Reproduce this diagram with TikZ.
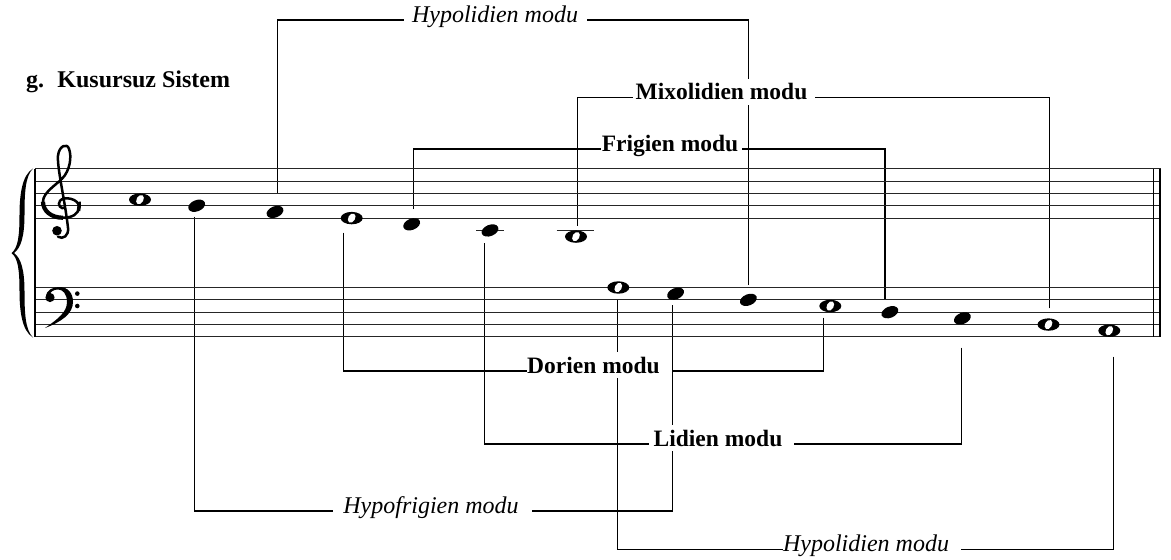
\documentclass[tikz,border=0pt]{standalone}
\usepackage{fontspec}
\setmainfont{Liberation Serif}
\usetikzlibrary{backgrounds}
\begin{document}
\begin{tikzpicture}[x=1pt,y=-1pt,
  staffline/.style={line width=1.1pt, black!85},
  conn/.style={line width=1.1pt, black},
  boldlab/.style={font=\fontsize{23.5}{26}\selectfont\bfseries, inner xsep=0pt, inner ysep=4.5pt, fill=white, anchor=mid},
  itlab/.style={font=\fontsize{24}{27}\selectfont\itshape, inner xsep=0pt, inner ysep=4.5pt, fill=white, anchor=mid},
  wnote/.pic={\fill[black] (0,0) ellipse [x radius=11pt, y radius=6.2pt];
              \fill[white, rotate=-30] (0,0) ellipse [x radius=3.4pt, y radius=5pt];},
  fnote/.pic={\fill[black, rotate=22] (0,0) ellipse [x radius=8.8pt, y radius=5.6pt];}
]
\useasboundingbox (0,0) rectangle (1171,560);

% staves
\foreach \k in {0,...,4}{
  \draw[staffline] (35,{168.7+12.35*\k}) -- (1161,{168.7+12.35*\k});
  \draw[staffline] (35,{287.5+12.35*\k}) -- (1161,{287.5+12.35*\k});
}
\draw[line width=1.3pt] (35,168.7) -- (35,336.9);
\draw[line width=1.3pt] (1153.5,168.7) -- (1153.5,336.9);
\draw[line width=1.8pt] (1160.2,168.7) -- (1160.2,336.9);

% brace
\fill[black] (33,168.5) .. controls (22,175) and (19.5,195) .. (19.5,215)
  .. controls (19.5,236) and (18,248) .. (11.5,253)
  .. controls (18,258) and (19.5,270) .. (19.5,291)
  .. controls (19.5,311) and (22,331) .. (33,337.5)
  .. controls (25,330) and (24.5,311) .. (24.5,291)
  .. controls (24.5,270) and (21,258) .. (14,253)
  .. controls (21,248) and (24.5,236) .. (24.5,215)
  .. controls (24.5,195) and (25,176) .. (33,168.5) -- cycle;

% treble clef
\begin{scope}[shift={(62,205.75)}]
  \draw[line width=2.5pt, line cap=round]
    (3,2) .. controls (-1,4) and (-5,-1) .. (-2,-5)
    .. controls (2,-10) and (17,-7) .. (17,1)
    .. controls (17,9) and (9,12) .. (1,12)
    .. controls (-11,12) and (-19,5) .. (-19,-4)
    .. controls (-19,-13) and (-7,-20) .. (0,-27)
    .. controls (8,-35) and (10,-49) .. (7,-57)
    .. controls (5,-63) and (-3,-60) .. (-4,-50)
    .. controls (-5,-38) and (3,-5) .. (6,22)
    .. controls (7,30) and (1,34) .. (-4,31);
  \draw[line width=4.2pt] (1,12) .. controls (-11,12) and (-19,5) .. (-19,-4);
  \draw[line width=3.6pt] (17,-4) .. controls (17.2,0) and (17.2,2) .. (16.5,5);
  \fill (-5,25) circle [radius=4.8pt];
\end{scope}

% bass clef
\fill[black] (46,297) .. controls (46,290) and (53,287) .. (59,287)
  .. controls (68,287) and (73,293) .. (73,302)
  .. controls (73,314) and (61,322) .. (45,328)
  .. controls (58,319) and (67,312) .. (67,302)
  .. controls (67,294) and (63,289.5) .. (58,289.5)
  .. controls (53,289.5) and (50,292) .. (49,296) -- cycle;
\fill (50,297.5) circle [radius=4.6pt];
\fill (77.3,293.6) circle [radius=2.3pt];
\fill (77.3,306) circle [radius=2.3pt];

% notes (treble)
\pic at (140,199.6) {wnote};
\pic at (196.7,205.75) {fnote};
\pic at (275,211.9) {fnote};
\pic at (351.7,218.1) {wnote};
\pic at (411.7,224.3) {fnote};
\draw[staffline] (476,230.45) -- (504,230.45);
\pic at (490,230.45) {fnote};
\draw[staffline] (556.7,230.45) -- (594,230.45);
\pic at (576,236.6) {wnote};
% notes (bass)
\pic at (618.3,287.5) {wnote};
\pic at (675.6,293.7) {fnote};
\pic at (748.4,299.85) {fnote};
\pic at (830.3,306) {wnote};
\pic at (889.9,312.2) {fnote};
\pic at (962.4,318.4) {fnote};
\pic at (1048.5,324.55) {wnote};
\pic at (1109.3,330.7) {wnote};

% connector end points at the notes
\coordinate (pG4) at (194.3,216.7);
\coordinate (pF4) at (277.7,193.4);
\coordinate (pE4) at (343.3,232.7);
\coordinate (pD4) at (413.3,209);
\coordinate (pC4) at (484.3,243.3);
\coordinate (pB3) at (577.5,225.7);
\coordinate (pA3) at (617.7,300);
\coordinate (pG3) at (672.7,305);
\coordinate (pF3) at (748.4,285);
\coordinate (pE3) at (823.3,317.7);
\coordinate (pD3) at (885,299);
\coordinate (pC3) at (961.7,347.5);
\coordinate (pB2) at (1049.5,308.3);
\coordinate (pA2) at (1113.3,356.7);

% title
\node[font=\fontsize{24}{26}\selectfont\bfseries, anchor=mid west, inner sep=0pt] (title) at (26,85.3) {g.\hspace{0.55em}Kusursuz Sistem};

% labels
\node[itlab]   (hyT) at (495,20)     {Hypolidien modu};
\node[boldlab] (mix) at (721.5,97.7) {Mixolidien modu};
\node[boldlab] (fri) at (670,149)    {Frigien modu};
\node[boldlab] (dor) at (593.5,371)  {Dorien modu};
\node[boldlab] (lid) at (718,444)    {Lidien modu};
\node[itlab]   (hyf) at (431,511)    {Hypofrigien modu};
\node[itlab]   (hyB) at (866,549.3)  {Hypolidien modu};

% connectors
\begin{scope}[on background layer]
  \draw[conn] (pF4) |- ([xshift=-8pt]hyT.mid west);
  \draw[conn] (pF3) |- ([xshift=9pt]hyT.mid east);
  \draw[conn] (pB3) |- ([xshift=-2pt]mix.mid west);
  \draw[conn] (pB2) |- ([xshift=7pt]mix.mid east);
  \draw[conn] (pD4) |- ([xshift=-1pt]fri.mid west);
  \draw[conn] (pD3) |- ([xshift=4pt]fri.mid east);
  \draw[conn] (pE4) |- (dor.mid west);
  \draw[conn] (pE3) |- ([xshift=12.7pt]dor.mid east);
  \draw[conn] (pC4) |- ([xshift=-4pt]lid.mid west);
  \draw[conn] (pC3) |- ([xshift=11pt]lid.mid east);
  \draw[conn] (pG4) |- ([xshift=-10pt]hyf.mid west);
  \draw[conn] (pG3) |- ([xshift=13pt]hyf.mid east);
  \draw[conn] (pA3) |- (hyB.mid west);
  \draw[conn] (pA2) |- ([xshift=12pt]hyB.mid east);
\end{scope}
\end{tikzpicture}
\end{document}
